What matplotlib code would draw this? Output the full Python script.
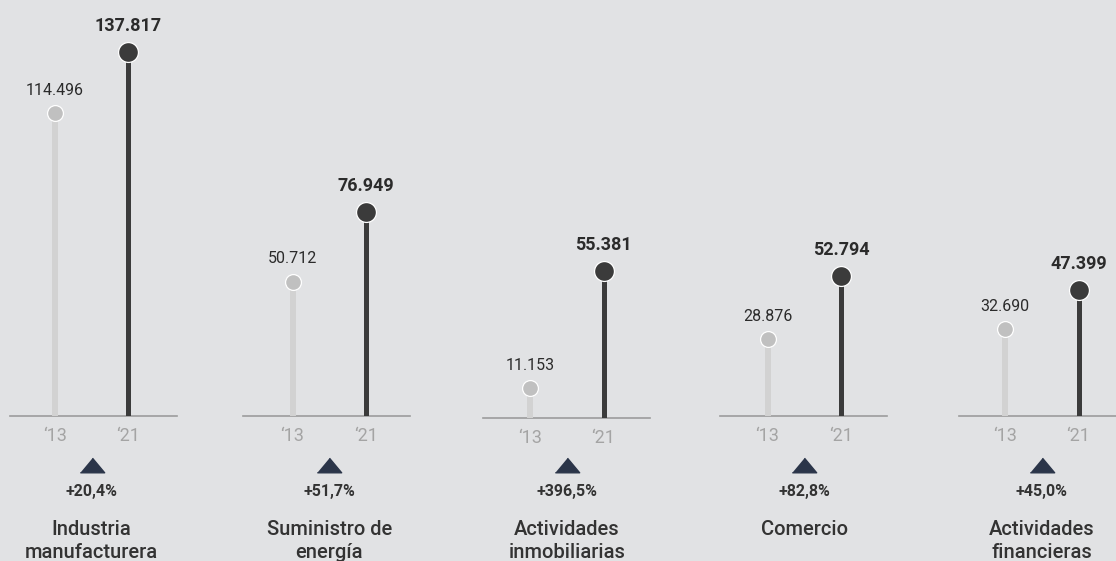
import matplotlib.pyplot as plt
import matplotlib.transforms as mtransforms

# data (thousands)
categories = ["Industria\nmanufacturera", "Suministro de\nenergía", "Actividades\ninmobiliarias",
              "Comercio", "Actividades\nfinancieras"]
values_13 = [114.496, 50.712, 11.153, 28.876, 32.690]
values_21 = [137.817, 76.949, 55.381, 52.794, 47.399]
labels_13 = ["114.496", "50.712", "11.153", "28.876", "32.690"]
labels_21 = ["137.817", "76.949", "55.381", "52.794", "47.399"]
changes = ["+20,4%", "+51,7%", "+396,5%", "+82,8%", "+45,0%"]
year_ticks = ["\u201813", "\u201821"]

BG = "#e1e2e4"
LIGHT_STEM = "#d2d2d2"
LIGHT_DOT = "#c0c0c0"
DARK = "#3b3b3b"
TEXT = "#2b2b2b"
NAVY = "#2b3549"

plt.rcParams["font.family"] = ["Roboto", "DejaVu Sans"]

W, H = 1116, 561
fig = plt.figure(figsize=(W / 100, H / 100), dpi=100, facecolor=BG)

px_per_unit = 2.642
panel_w = 167
lefts_px = [10, 243, 483, 720, 959]
base_px = [415.7, 415.7, 417.5, 415.7, 415.7]
unit_x = 73.5

for i, cat in enumerate(categories):
    left = lefts_px[i]
    stem0 = 55 + i * 237.5
    base = base_px[i]
    ax = fig.add_axes([left / W, (H - base) / H, panel_w / W, base / H])
    ax.set_facecolor("none")
    ax.set_xlim(-(stem0 - left) / unit_x, (left + panel_w - stem0) / unit_x)
    ax.set_ylim(0, base / px_per_unit)
    for s in ax.spines.values():
        s.set_visible(False)
    ax.set_yticks([])

    ax.axhline(0, color="#9c9c9c", lw=1.2, zorder=1, clip_on=False)
    ax.vlines(0, 0, values_13[i], color=LIGHT_STEM, lw=4.3, zorder=2)
    ax.vlines(1, 0, values_21[i], color=DARK, lw=3.6, zorder=2)
    ax.scatter([0], [values_13[i]], s=130, color=LIGHT_DOT, edgecolor="white",
               linewidth=0.9, zorder=3, clip_on=False)
    ax.scatter([1], [values_21[i]], s=205, color=DARK, edgecolor="white",
               linewidth=0.9, zorder=3, clip_on=False)

    ax.annotate(labels_13[i], (0, values_13[i]), xytext=(0, 23), textcoords="offset pixels",
                ha="center", va="center", fontsize=11.5, color=TEXT)
    ax.annotate(labels_21[i], (1, values_21[i]), xytext=(0, 26), textcoords="offset pixels",
                ha="center", va="center", fontsize=13, fontweight="bold", color=TEXT)

    ax.set_xticks([0, 1])
    ax.set_xticklabels(year_ticks, fontsize=13, color="#a4a4a4")
    ax.tick_params(axis="x", length=0, pad=8)

    trans = mtransforms.blended_transform_factory(ax.transData, mtransforms.IdentityTransform())
    ax.plot([0.5], [H - 465], marker=[(-1, -0.6), (1, -0.6), (0, 0.6)], markersize=17.5,
            color=NAVY, transform=trans, clip_on=False)
    ax.annotate(changes[i], (0.5, H - 491.7), xycoords=("data", "figure pixels"),
                ha="center", va="center", fontsize=11.5, fontweight="bold", color="#333333",
                annotation_clip=False)
    for j, line in enumerate(cat.split("\n")):
        ax.annotate(line, (0.5, H - 535 - j * 23), xycoords=("data", "figure pixels"),
                    ha="center", va="baseline", fontsize=14.5, fontweight="medium",
                    color="#333333", annotation_clip=False)

plt.savefig("out.png", dpi=100, facecolor=BG)
